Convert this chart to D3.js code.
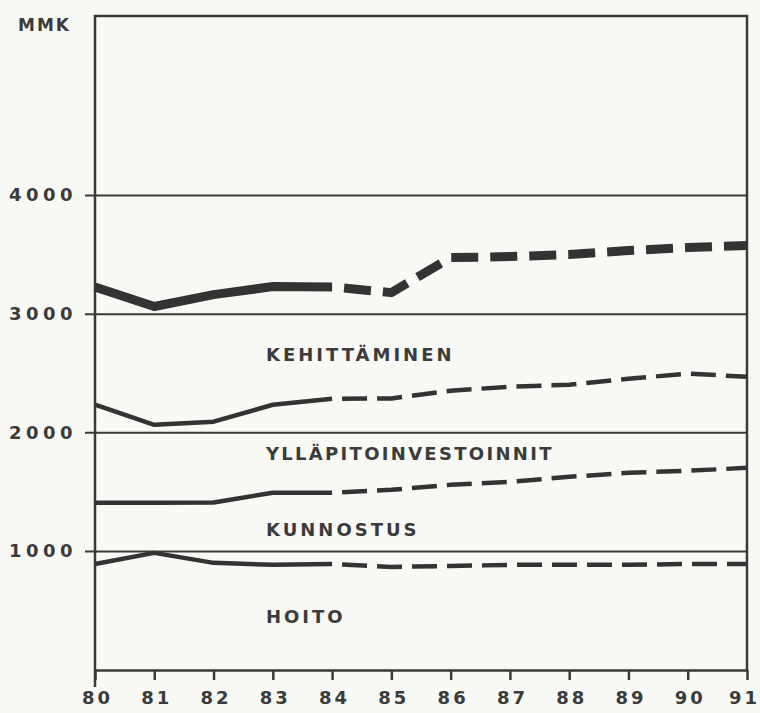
<!DOCTYPE html>
<html>
<head>
<meta charset="utf-8">
<script src="https://cdn.jsdelivr.net/npm/d3@7"></script>
<style>
body { margin: 0; background: #f8f8f5; }
svg text { font-family: "DejaVu Sans", "Liberation Sans", Arial, sans-serif; font-weight: bold; fill: #3b3b3b; }
</style>
</head>
<body>
<script>
// years 1980-1991, MMK
var years = [80, 81, 82, 83, 84, 85, 86, 87, 88, 89, 90, 91];
var kehittaminen = [3225, 3060, 3160, 3228, 3225, 3177, 3472, 3481, 3498, 3532, 3557, 3574];
var yllapito = [2232, 2063, 2089, 2232, 2283, 2285, 2350, 2384, 2400, 2451, 2494, 2468];
var kunnostus = [1405, 1405, 1408, 1490, 1490, 1515, 1557, 1582, 1624, 1658, 1675, 1700];
var hoito = [890, 983, 899, 882, 890, 865, 873, 882, 882, 882, 890, 890];
var yTicks = [1000, 2000, 3000, 4000];
var lastActual = 84; // solid up to 84, forecast dashed after

var series = [
  {name: "KEHITTÄMINEN", values: kehittaminen, w: 9, dash: "27,12"},
  {name: "YLLÄPITOINVESTOINNIT", values: yllapito, w: 4.5, dash: "25,10"},
  {name: "KUNNOSTUS", values: kunnostus, w: 4.5, dash: "25,10"},
  {name: "HOITO", values: hoito, w: 4.5, dash: "25,10"}
];

var width = 760, height = 713;
var mLeft = 95, mRight = 747, mTop = 16, mBottom = 670;

var svg = d3.select("body").append("svg")
    .attr("width", width)
    .attr("height", height);

var x = d3.scaleLinear().domain([80, 91]).range([mLeft, mRight]);
var y = d3.scaleLinear().domain([0, 4000]).range([669.5, 195]);

var ink = "#3a3a3a";

// gridlines + y labels
var yAxis = svg.append("g")
    .attr("transform", "translate(" + mRight + ",0)")
    .call(d3.axisLeft(y).tickValues(yTicks).tickSize(mRight - 85).tickPadding(8)
      .tickFormat(d3.format("d")));
yAxis.select(".domain").remove();
yAxis.selectAll("line").attr("stroke", ink).attr("stroke-width", 2);
yAxis.selectAll("text")
    .attr("font-size", 18)
    .style("letter-spacing", "4.5px")
    .attr("fill", ink);

// x axis
var xAxis = svg.append("g")
    .attr("transform", "translate(0," + mBottom + ")")
    .call(d3.axisBottom(x).tickValues(years).tickSize(10).tickSizeOuter(0).tickPadding(11)
      .tickFormat(d3.format("d")));
xAxis.select(".domain").attr("stroke", ink).attr("stroke-width", 2.5);
xAxis.selectAll("line").attr("stroke", ink).attr("stroke-width", 2.5);
xAxis.selectAll("text")
    .attr("font-size", 18)
    .attr("dx", function(d){ return d === 91 ? -3 : 2; })
    .style("letter-spacing", "3px")
    .attr("fill", ink);

// frame
svg.append("path")
    .attr("d", "M" + mLeft + ",687V" + mTop + "H" + mRight + "V" + mBottom)
    .attr("fill", "none")
    .attr("stroke", ink)
    .attr("stroke-width", 2.5);

svg.append("text")
    .attr("x", 18).attr("y", 31)
    .attr("font-size", 17)
    .style("letter-spacing", "2px")
    .text("MMK");

var line = d3.line()
    .x(function(d){ return x(d[0]); })
    .y(function(d){ return y(d[1]); });

series.forEach(function(s){
  var pts = years.map(function(yr, i){ return [yr, s.values[i]]; });
  var solid = pts.filter(function(d){ return d[0] <= lastActual; });
  var dashed = pts.filter(function(d){ return d[0] >= lastActual; });
  svg.append("path")
      .datum(solid)
      .attr("d", line)
      .attr("fill", "none")
      .attr("stroke", "#333")
      .attr("stroke-width", s.w)
      .attr("stroke-linejoin", "round");
  svg.append("path")
      .datum(dashed)
      .attr("d", line)
      .attr("fill", "none")
      .attr("stroke", "#333")
      .attr("stroke-width", s.w)
      .attr("stroke-dasharray", s.dash)
      .attr("stroke-dashoffset", s.w > 6 ? 27 : 25)
      .attr("stroke-linejoin", "round");
});

// series labels
var labelY = [361, 460, 536, 623];
svg.selectAll(".lbl")
  .data(series).enter()
  .append("text")
    .attr("class", "lbl")
    .attr("x", 266)
    .attr("y", function(d, i){ return labelY[i]; })
    .attr("font-size", 18)
    .style("letter-spacing", function(d){ return d.name.length > 15 ? "2.3px" : "3px"; })
    .text(function(d){ return d.name; });
</script>
</body>
</html>
